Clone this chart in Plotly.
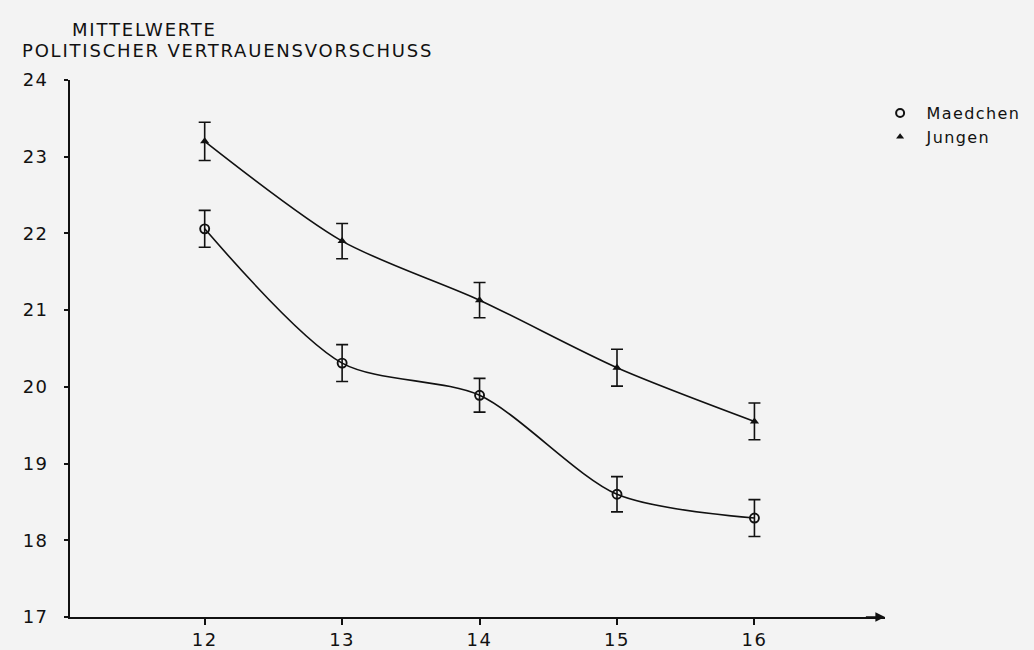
import plotly.graph_objects as go

# Alter (Jahre) und Mittelwerte des politischen Vertrauensvorschusses
alter = [12, 13, 14, 15, 16]
maedchen = [22.06, 20.31, 19.89, 18.60, 18.29]
maedchen_err = [0.24, 0.24, 0.22, 0.23, 0.24]
jungen = [23.20, 21.90, 21.13, 20.25, 19.55]
jungen_err = [0.25, 0.23, 0.23, 0.24, 0.24]

y_ticks = [17, 18, 19, 20, 21, 22, 23, 24]

font_family = "DejaVu Sans, Verdana, sans-serif"
ink = "#111111"


def spaced(text, px=2.0):
    """Text mit erweitertem Zeichenabstand."""
    return f'<span style="letter-spacing:{px}px">{text}</span>'


fig = go.Figure()

fig.add_trace(go.Scatter(
    x=alter, y=maedchen, name="Maedchen", showlegend=False,
    mode="lines+markers",
    line=dict(color=ink, width=1.6, shape="spline", smoothing=0.8),
    marker=dict(symbol="circle-open", size=9, color=ink, line=dict(width=1.9)),
    error_y=dict(type="data", array=maedchen_err, color=ink, thickness=1.6, width=6),
))
fig.add_trace(go.Scatter(
    x=alter, y=jungen, name="Jungen", showlegend=False,
    mode="lines+markers",
    line=dict(color=ink, width=1.6, shape="spline", smoothing=0.8),
    marker=dict(symbol="triangle-up", size=8, color=ink),
    error_y=dict(type="data", array=jungen_err, color=ink, thickness=1.6, width=6),
))

# Legendeneinträge nur mit Symbolen
fig.add_trace(go.Scatter(
    x=[None], y=[None], name=spaced("&nbsp;Maedchen", 1.4), mode="markers",
    marker=dict(symbol="circle-open", size=8, color=ink, line=dict(width=2)),
))
fig.add_trace(go.Scatter(
    x=[None], y=[None], name=spaced("&nbsp;Jungen", 1.4), mode="markers",
    marker=dict(symbol="triangle-up", size=7, color=ink),
))

fig.update_layout(
    width=1034, height=650,
    margin=dict(l=70, r=149, t=80, b=33, autoexpand=False),
    paper_bgcolor="#f3f3f3",
    plot_bgcolor="#f3f3f3",
    font=dict(family=font_family, size=17, color=ink),
    showlegend=True,
    legend=dict(
        x=0.994, y=0.97, xref="paper", yref="paper",
        xanchor="left", yanchor="top",
        bgcolor="rgba(0,0,0,0)",
        font=dict(size=16, color=ink),
        itemwidth=30,
        tracegroupgap=0,
    ),
    xaxis=dict(
        range=[11.02, 16.95],
        tickvals=alter,
        ticktext=[spaced(str(a), 1.5) for a in alter],
        showgrid=False, zeroline=False,
        showline=True, linecolor=ink, linewidth=1.7,
        ticks="outside", ticklen=6, tickcolor=ink, tickwidth=1.5,
        tickfont=dict(size=18),
    ),
    yaxis=dict(
        range=[17, 24],
        tickvals=y_ticks,
        ticktext=[spaced(str(v), 1.5) for v in y_ticks],
        showgrid=False, zeroline=False,
        showline=True, linecolor=ink, linewidth=1.7,
        ticks="outside", ticklen=4, tickcolor=ink, tickwidth=1.5,
        tickfont=dict(size=18),
        ticklabelstandoff=12,
    ),
)

# Überschrift über dem Diagramm
fig.add_annotation(text=spaced("MITTELWERTE", 1.8), xref="paper", yref="paper",
                   x=(70 - 70) / 815, y=(650 - 33 - 30) / 537,
                   xanchor="left", yanchor="middle", showarrow=False,
                   font=dict(size=18))
fig.add_annotation(text=spaced("POLITISCHER VERTRAUENSVORSCHUSS", 1.8),
                   xref="paper", yref="paper",
                   x=(20 - 70) / 815, y=(650 - 33 - 51) / 537,
                   xanchor="left", yanchor="middle", showarrow=False,
                   font=dict(size=18))

# Pfeilspitze am Ende der x-Achse
fig.add_annotation(x=16.95, y=17, ax=16.8, ay=17, xref="x", yref="y",
                   axref="x", ayref="y", text="", showarrow=True,
                   arrowhead=2, arrowsize=1.2, arrowwidth=1.6, arrowcolor=ink)

fig.write_html("out.html")
